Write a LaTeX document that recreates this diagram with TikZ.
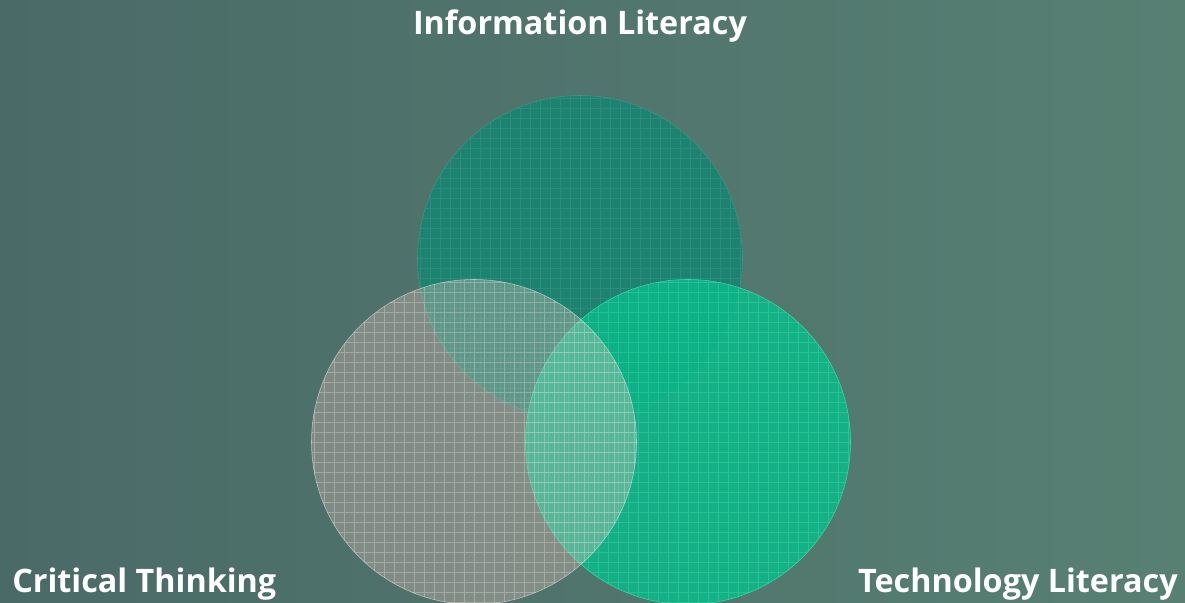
\documentclass[tikz,border=0pt]{standalone}
\usepackage{fontspec}
\setmainfont{Open Sans}
\usetikzlibrary{positioning}

\definecolor{bgleft}{HTML}{4A6A67}
\definecolor{bgright}{HTML}{578073}
\definecolor{infofill}{HTML}{1E8270}
\definecolor{infogrid}{HTML}{2A8C7A}
\definecolor{techfill}{HTML}{0CB88A}
\definecolor{techgrid}{HTML}{3CD6A6}
\definecolor{critfill}{HTML}{EBC3BE}
\definecolor{critgrid}{HTML}{F4EEEA}

\tikzset{
	venn/.style={circle, minimum size=325*0.025cm, inner sep=0pt},
	mesh/.style={step=0.25cm, line width=0.5pt},
	label text/.style={text=white, font=\bfseries\fontsize{23}{26}\selectfont, inner sep=0pt}
}

\begin{document}
\begin{tikzpicture}[x=0.025cm, y=-0.025cm]
	% backdrop
	\shade[left color=bgleft, right color=bgright] (0,0) rectangle (1185,603);
	\useasboundingbox (0,0) rectangle (1185,603);

	% the three circles
	\node[venn, fill=infofill, draw=infofill!85!white,
		path picture={\draw[mesh, infogrid] (path picture bounding box.south west) grid (path picture bounding box.north east);}]
		(info) at (580,258) {};
	\node[venn, fill=techfill, fill opacity=0.88, draw=techgrid,
		path picture={\draw[mesh, techgrid, opacity=0.45] (path picture bounding box.south west) grid (path picture bounding box.north east);}]
		(tech) at (688,442) {};
	\node[venn, fill=critfill, fill opacity=0.33, draw=critgrid, draw opacity=0.6,
		path picture={\draw[mesh, critgrid, opacity=0.3] (path picture bounding box.south west) grid (path picture bounding box.north east);}]
		(crit) at (474,442) {};

	% labels
	\node[label text, anchor=base] (infolabel) at (580,35) {Information Literacy};
	\node[label text, anchor=base west] (critlabel) at (12,592) {Critical Thinking};
	\node[label text, anchor=base east] (techlabel) at (1178,592) {Technology Literacy};
\end{tikzpicture}
\end{document}
